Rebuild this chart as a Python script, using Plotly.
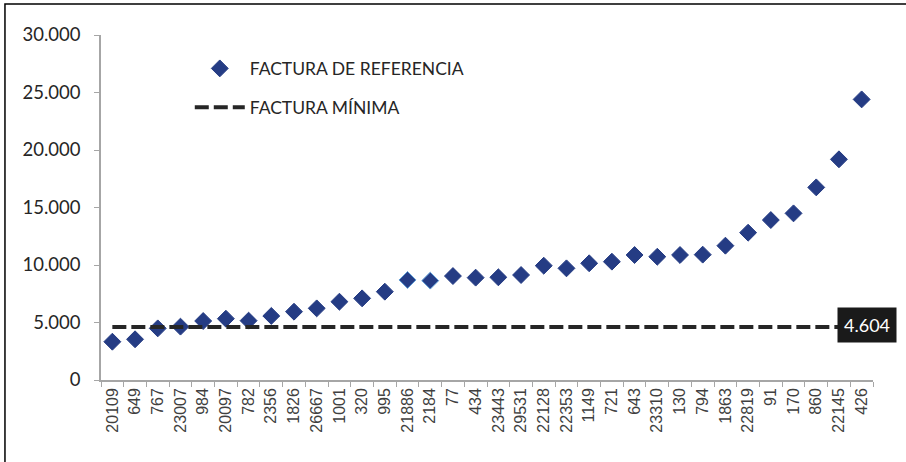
import plotly.graph_objects as go

categories = ["20109", "649", "767", "23007", "984", "20097", "782", "2356", "1826", "26667",
              "1001", "320", "995", "21886", "2184", "77", "434", "23443", "29531", "22128",
              "22353", "1149", "721", "643", "23310", "130", "794", "1863", "22819", "91",
              "170", "860", "22145", "426"]
factura_referencia = [3330, 3540, 4490, 4640, 5130, 5330, 5160, 5570, 5940, 6230,
                      6810, 7100, 7680, 8700, 8640, 9040, 8900, 8930, 9130, 9940,
                      9710, 10150, 10290, 10870, 10720, 10870, 10900, 11680, 12810, 13910,
                      14490, 16750, 19190, 24400]
factura_minima = 4604
highlighted = ["21886", "2184"]

navy = "#253C84"
border_colors = ["#5B9BD5" if c in highlighted else navy for c in categories]

fig = go.Figure()
fig.add_trace(go.Scatter(
    x=categories, y=factura_referencia, mode="markers",
    name="FACTURA DE REFERENCIA", legendgroup="a",
    marker=dict(symbol="diamond", size=13, color=navy,
                line=dict(color=border_colors, width=1)),
))
fig.add_trace(go.Scatter(
    x=categories, y=[factura_minima] * len(categories), mode="lines",
    name="FACTURA MÍNIMA", legendgroup="b",
    line=dict(color="#262626", width=4, dash="14px,5px"),
))

fig.add_annotation(
    x=len(categories) - 1, y=factura_minima, xref="x", yref="y",
    text=f"{factura_minima:,}".replace(",", "."), showarrow=False,
    font=dict(family="Lato", size=18, color="white"),
    bgcolor="#1a1a1a", borderpad=6, xshift=5, yshift=2,
)

# outer border (left and top visible)
fig.add_shape(type="rect", xref="paper", yref="paper",
              x0=-0.1244, x1=1.3, y0=-0.6, y1=1.0899,
              line=dict(color="black", width=1.5), layer="below")

fig.update_layout(
    width=906, height=462,
    margin=dict(l=101, r=33, t=35, b=82, autoexpand=False),
    paper_bgcolor="white", plot_bgcolor="white",
    separators=",.",
    showlegend=True,
    legend=dict(x=0.115, y=0.955, xanchor="left", yanchor="top",
                traceorder="grouped", tracegroupgap=13, itemwidth=50,
                font=dict(family="Lato", size=17.5, color="#262626"),
                bgcolor="rgba(0,0,0,0)"),
    xaxis=dict(
        type="category", range=[-0.5, len(categories) - 0.5],
        showgrid=False, showline=True, linecolor="#A6A6A6", linewidth=1.5,
        ticks="outside", tickson="boundaries", ticklen=5, tickcolor="#A6A6A6",
        tickangle=-90, tickfont=dict(family="Liberation Sans", size=16, color="#404040"),
        zeroline=False, automargin=False,
    ),
    yaxis=dict(
        range=[0, 30000], tickvals=[0, 5000, 10000, 15000, 20000, 25000, 30000],
        tickformat=",d", showgrid=False, showline=True, linecolor="#A6A6A6", linewidth=1.5,
        ticks="outside", ticklen=5, tickcolor="#A6A6A6", zeroline=False, automargin=False,
        ticklabelstandoff=10,
        tickfont=dict(family="Lato", size=18.5, color="#262626"),
    ),
)

fig.write_html("out.html", config={"displayModeBar": False},
               post_script="document.body.style.margin='0';")
